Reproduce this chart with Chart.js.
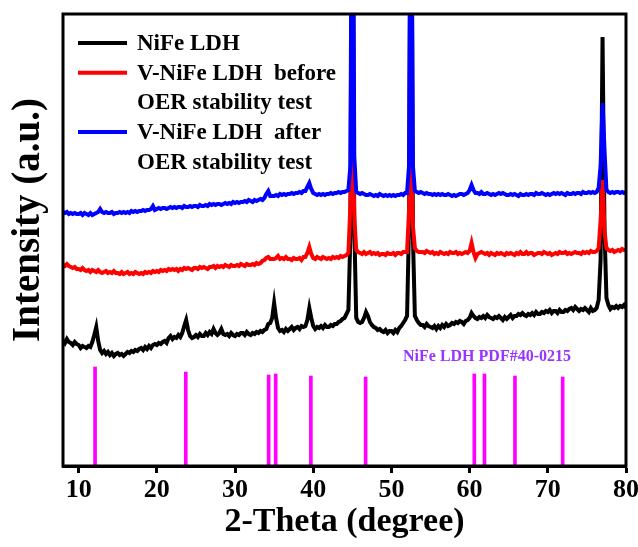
<!DOCTYPE html>
<html>
<head>
<meta charset="utf-8">
<script src="https://cdn.jsdelivr.net/npm/chart.js@4/dist/chart.umd.min.js"></script>
<style>
  html, body { margin: 0; padding: 0; background: #fff; }
  canvas { display: block; }
</style>
</head>
<body>
<canvas id="xrd" width="638" height="547"></canvas>
<script>
// 2-theta sampling grid (degrees)
const twoTheta = [
  8,8.25,8.5,8.75,9,9.25,9.5,9.75,
  10,10.25,10.5,10.75,11,11.25,11.5,11.75,
  12,12.25,12.5,12.75,13,13.25,13.5,13.75,
  14,14.25,14.5,14.75,15,15.25,15.5,15.75,
  16,16.25,16.5,16.75,17,17.25,17.5,17.75,
  18,18.25,18.5,18.75,19,19.25,19.5,19.75,
  20,20.25,20.5,20.75,21,21.25,21.5,21.75,
  22,22.25,22.5,22.75,23,23.25,23.5,23.75,
  24,24.25,24.5,24.75,25,25.25,25.5,25.75,
  26,26.25,26.5,26.75,27,27.25,27.5,27.75,
  28,28.25,28.5,28.75,29,29.25,29.5,29.75,
  30,30.25,30.5,30.75,31,31.25,31.5,31.75,
  32,32.25,32.5,32.75,33,33.25,33.5,33.75,
  34,34.25,34.5,34.75,35,35.25,35.5,35.75,
  36,36.25,36.5,36.75,37,37.25,37.5,37.75,
  38,38.25,38.5,38.75,39,39.25,39.5,39.75,
  40,40.25,40.5,40.75,41,41.25,41.5,41.75,
  42,42.25,42.5,42.75,43,43.25,43.5,43.75,
  44,44.25,44.5,44.75,45,45.25,45.5,45.75,
  46,46.25,46.5,46.75,47,47.25,47.5,47.75,
  48,48.25,48.5,48.75,49,49.25,49.5,49.75,
  50,50.25,50.5,50.75,51,51.25,51.5,51.75,
  52,52.25,52.5,52.75,53,53.25,53.5,53.75,
  54,54.25,54.5,54.75,55,55.25,55.5,55.75,
  56,56.25,56.5,56.75,57,57.25,57.5,57.75,
  58,58.25,58.5,58.75,59,59.25,59.5,59.75,
  60,60.25,60.5,60.75,61,61.25,61.5,61.75,
  62,62.25,62.5,62.75,63,63.25,63.5,63.75,
  64,64.25,64.5,64.75,65,65.25,65.5,65.75,
  66,66.25,66.5,66.75,67,67.25,67.5,67.75,
  68,68.25,68.5,68.75,69,69.25,69.5,69.75,
  70,70.25,70.5,70.75,71,71.25,71.5,71.75,
  72,72.25,72.5,72.75,73,73.25,73.5,73.75,
  74,74.25,74.5,74.75,75,75.25,75.5,75.75,
  76,76.25,76.5,76.75,77,77.25,77.5,77.75,
  78,78.25,78.5,78.75,79,79.25,79.5,79.75,
  80
];

// NiFe LDH pattern (offset, a.u.)
const nifeLDH = [
  126,123,127,124, 123,121,124,122,
  121,118,120,119, 118,120,119,124,
  131,139,125,116, 113,115,112,114,
  111,113,110,112, 113,111,112,110,
  112,114,113,115, 114,116,115,117,
  118,116,119,117, 120,118,121,122,
  121,123,122,124, 125,123,128,130,
  127,129,128,131, 129,133,140,146,
  136,130,128,129, 131,129,132,130,
  130,133,131,134, 132,137,133,131,
  133,137,132,131, 132,130,133,131,
  130,132,131,133, 133,131,134,132,
  131,133,132,134, 133,135,134,136,
  137,142,143,148, 163,148,138,135,
  136,134,137,135, 137,139,136,138,
  139,137,140,139, 140,146,158,148,
  140,137,139,138, 140,138,141,139,
  139,141,140,142, 142,144,145,147,
  148,152,156,230, 700,240,148,144,
  143,144,148,154, 150,144,141,139,
  138,136,137,135, 134,136,133,135,
  135,133,136,134, 138,140,143,146,
  150,240,700,230, 150,146,143,141,
  141,139,142,140, 139,138,140,137,
  140,138,141,139, 142,140,141,143,
  142,144,143,145, 144,142,145,146,
  148,153,150,148, 147,149,148,150,
  148,151,149,148, 147,149,148,150,
  148,146,149,147, 149,151,148,150,
  150,152,151,153, 151,150,152,151,
  153,151,154,152, 152,154,153,155,
  154,156,153,155, 155,153,156,154,
  154,156,155,157, 158,156,159,157,
  155,157,156,158, 156,154,158,155,
  156,158,166,206, 429,236,168,161,
  157,159,158,160, 158,160,159,161,
  158
];

// V-NiFe LDH before OER stability test
const vNifeBefore = [
  201,200,202,200, 199,198,199,197,
  197,196,198,196, 195,196,194,196,
  195,194,196,194, 193,194,195,193,
  194,193,195,193, 193,192,194,192,
  193,194,192,193, 192,194,193,192,
  193,192,194,193, 194,193,195,194,
  195,194,196,195, 196,195,197,196,
  197,196,197,195, 197,196,198,197,
  198,197,196,198, 198,197,199,198,
  199,198,197,199, 199,200,198,200,
  199,200,199,201, 200,199,201,200,
  200,201,200,202, 201,200,202,201,
  201,202,201,203, 202,203,205,206,
  208,209,207,207, 207,208,210,207,
  208,207,209,207, 207,206,208,207,
  207,208,206,209, 209,213,219,212,
  208,207,209,208, 207,209,208,207,
  208,207,209,208, 209,208,210,209,
  210,211,213,260, 346,250,216,214,
  213,212,214,212, 213,214,212,213,
  212,213,211,212, 212,211,213,212,
  212,213,211,213, 213,212,214,214,
  214,255,346,240, 218,215,214,214,
  214,213,215,214, 213,214,212,213,
  212,214,213,212, 213,212,214,213,
  213,214,212,213, 212,213,214,213,
  215,223,214,208, 212,213,214,213,
  212,213,211,213, 212,211,213,212,
  213,212,211,213, 212,213,212,211,
  213,212,214,212, 212,214,212,213,
  213,211,212,213, 213,212,214,213,
  212,213,211,212, 213,212,214,213,
  213,214,212,213, 212,213,214,213,
  213,212,214,213, 214,213,215,214,
  214,215,218,245, 286,235,218,216,
  215,216,214,215, 216,215,217,216,
  216
];

// V-NiFe LDH after OER stability test
const vNifeAfter = [
  254,253,254,252, 253,252,253,252,
  252,253,251,253, 252,251,253,251,
  252,253,254,257, 254,253,254,253,
  253,254,252,253, 253,254,253,254,
  253,254,253,255, 254,255,254,255,
  255,256,255,256, 256,257,260,256,
  257,258,257,258, 258,257,258,259,
  258,259,258,259, 259,258,260,259,
  259,260,259,260, 260,259,261,260,
  260,261,260,262, 261,262,261,262,
  262,261,262,263, 262,263,262,264,
  263,264,263,264, 264,265,264,266,
  265,264,266,265, 266,267,266,268,
  272,275,270,270, 270,271,270,272,
  271,272,271,272, 272,273,272,273,
  273,274,273,275, 275,279,283,277,
  273,272,271,272, 271,272,271,272,
  272,273,272,273, 273,274,273,274,
  274,275,276,300, 700,310,274,273,
  272,273,272,271, 271,272,271,270,
  271,270,272,271, 270,271,270,271,
  270,271,270,271, 271,272,271,273,
  273,300,700,300, 275,274,273,274,
  273,272,273,272, 272,271,272,271,
  272,271,272,271, 271,272,271,270,
  271,270,271,272, 272,271,272,273,
  276,281,276,273, 273,272,274,272,
  272,273,272,271, 272,271,272,273,
  272,273,272,271, 271,272,271,272,
  271,270,272,271, 271,272,271,272,
  272,271,273,272, 272,273,272,271,
  272,271,272,273, 272,273,272,273,
  272,271,273,272, 272,273,272,273,
  273,272,274,273, 273,274,273,274,
  273,274,278,300, 363,316,276,274,
  273,274,273,274, 274,273,274,273,
  274
];

// Standard card lines, NiFe LDH PDF#40-0215
const pdfPositions = [12.1, 23.7, 34.3, 35.2, 39.7, 46.7, 60.6, 61.9, 65.8, 71.9];
const pdfHeights   = [99, 94, 91, 92, 90, 89, 92, 92, 90, 89];

const xTicks = [10, 20, 30, 40, 50, 60, 70, 80];

const legendRows = [
  { text: 'NiFe LDH', color: '#000000' },
  { text: 'V-NiFe LDH  before', color: '#ff0000' },
  { text: 'OER stability test', color: null },
  { text: 'V-NiFe LDH  after', color: '#0000ff' },
  { text: 'OER stability test', color: null }
];

const SERIF = '"Liberation Serif", "Times New Roman", Times, serif';

const toPoints = (ys) => twoTheta.map((x, i) => ({ x: x, y: ys[i] }));

// Frame, legend, card label and y-axis title
const annotations = {
  id: 'annotations',
  afterDraw(chart) {
    const { ctx, chartArea: a } = chart;
    ctx.save();
    ctx.lineWidth = 3;
    ctx.strokeStyle = '#000';
    ctx.strokeRect(a.left, a.top, a.right - a.left, a.bottom - a.top);

    ctx.font = 'bold 23px ' + SERIF;
    ctx.textBaseline = 'middle';
    ctx.textAlign = 'left';
    legendRows.forEach((row, i) => {
      const y = 43 + i * 29.7;
      if (row.color) {
        ctx.beginPath();
        ctx.strokeStyle = row.color;
        ctx.lineWidth = 4;
        ctx.moveTo(78, y);
        ctx.lineTo(127, y);
        ctx.stroke();
      }
      ctx.fillStyle = '#000';
      ctx.fillText(row.text, 137, y + 1);
    });

    ctx.font = 'bold 16px ' + SERIF;
    ctx.fillStyle = '#9933ff';
    ctx.fillText('NiFe LDH PDF#40-0215', 403, 357);

    ctx.translate(29, 220);
    ctx.rotate(-Math.PI / 2);
    ctx.textAlign = 'center';
    ctx.fillStyle = '#000';
    ctx.font = 'bold 39px ' + SERIF;
    ctx.fillText('Intensity (a.u.)', 0, 0);
    ctx.restore();
  }
};

const lineStyle = { borderWidth: 4, pointRadius: 0, tension: 0, fill: false };

new Chart(document.getElementById('xrd'), {
  type: 'line',
  data: {
    datasets: [
      Object.assign({ label: 'V-NiFe LDH after OER stability test', data: toPoints(vNifeAfter), borderColor: '#0000ff', order: 1 }, lineStyle),
      Object.assign({ label: 'V-NiFe LDH before OER stability test', data: toPoints(vNifeBefore), borderColor: '#ff0000', order: 2 }, lineStyle),
      Object.assign({ label: 'NiFe LDH', data: toPoints(nifeLDH), borderColor: '#000000', order: 3 }, lineStyle),
      {
        type: 'bar',
        label: 'NiFe LDH PDF#40-0215',
        data: pdfPositions.map((x, i) => ({ x: x, y: pdfHeights[i] })),
        backgroundColor: '#ff00ff',
        barThickness: 3,
        order: 4
      }
    ]
  },
  options: {
    responsive: false,
    animation: false,
    devicePixelRatio: 1,
    layout: { padding: { left: 63, right: 12, top: 14, bottom: 0 } },
    plugins: { legend: { display: false }, tooltip: { enabled: false } },
    scales: {
      x: {
        type: 'linear',
        min: 8,
        max: 80,
        offset: false,
        afterBuildTicks: (s) => { s.ticks = xTicks.map((v) => ({ value: v })); },
        afterFit: (s) => { s.height = 81; s.paddingLeft = 0; s.paddingRight = 0; },
        border: { display: true, color: '#000', width: 3 },
        grid: { display: true, offset: false, drawOnChartArea: false, drawTicks: true, tickLength: 7, tickWidth: 3, tickColor: '#000', color: '#000' },
        ticks: { color: '#000', padding: 2, maxRotation: 0, autoSkip: false, font: { family: SERIF, size: 26, weight: 'bold' } },
        title: { display: true, text: '2-Theta (degree)', color: '#000', padding: { top: 0, bottom: 4 }, font: { family: SERIF, size: 34, weight: 'bold' } }
      },
      y: { display: false, min: 0, max: 452 }
    }
  },
  plugins: [annotations]
});
</script>
</body>
</html>
